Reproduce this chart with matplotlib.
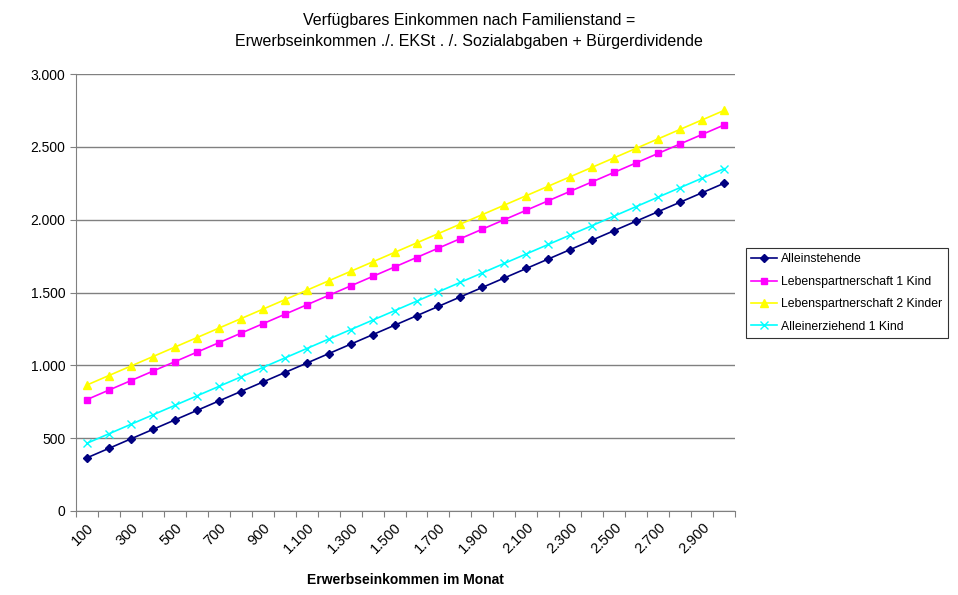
import numpy as np
import matplotlib.pyplot as plt
from matplotlib.ticker import FuncFormatter

plt.rcParams['font.family'] = ['Liberation Sans', 'DejaVu Sans']

# Erwerbseinkommen im Monat (Kategorien)
einkommen = [100, 200, 300, 400, 500, 600, 700, 800, 900, 1000,
             1100, 1200, 1300, 1400, 1500, 1600, 1700, 1800, 1900, 2000,
             2100, 2200, 2300, 2400, 2500, 2600, 2700, 2800, 2900, 3000]

alleinstehende = [365, 430, 495, 560, 625, 690, 755, 820, 885, 950,
                  1015, 1080, 1145, 1210, 1275, 1340, 1405, 1470, 1535, 1600,
                  1665, 1730, 1795, 1860, 1925, 1990, 2055, 2120, 2185, 2250]
lp_1_kind = [765, 830, 895, 960, 1025, 1090, 1155, 1220, 1285, 1350,
             1415, 1480, 1545, 1610, 1675, 1740, 1805, 1870, 1935, 2000,
             2065, 2130, 2195, 2260, 2325, 2390, 2455, 2520, 2585, 2650]
lp_2_kinder = [865, 930, 995, 1060, 1125, 1190, 1255, 1320, 1385, 1450,
               1515, 1580, 1645, 1710, 1775, 1840, 1905, 1970, 2035, 2100,
               2165, 2230, 2295, 2360, 2425, 2490, 2555, 2620, 2685, 2750]
alleinerz_1_kind = [465, 530, 595, 660, 725, 790, 855, 920, 985, 1050,
                    1115, 1180, 1245, 1310, 1375, 1440, 1505, 1570, 1635, 1700,
                    1765, 1830, 1895, 1960, 2025, 2090, 2155, 2220, 2285, 2350]

def tausender(v, pos):
    return '{:,.0f}'.format(v).replace(',', '.')

fig = plt.figure(figsize=(9.58, 5.95), dpi=100)
ax = fig.add_axes([0.0793, 0.1412, 0.688, 0.7344])

x = np.arange(1, len(einkommen) + 1)
ax.plot(x, alleinstehende, color='#000080', marker='D', markersize=4.5, lw=1.2, label='Alleinstehende')
ax.plot(x, lp_1_kind, color='#FF00FF', marker='s', markersize=5, lw=1.2, label='Lebenspartnerschaft 1 Kind')
ax.plot(x, lp_2_kinder, color='#FFFF00', marker='^', markersize=5.5, lw=1.2, label='Lebenspartnerschaft 2 Kinder')
ax.plot(x, alleinerz_1_kind, color='#00FFFF', marker='x', markersize=5.5, mew=1, lw=1.2, label='Alleinerziehend 1 Kind')

ax.set_xlim(0.5, len(einkommen) + 0.5)
ax.set_ylim(0, 3000)
ax.set_yticks(np.arange(0, 3001, 500))
ax.yaxis.set_major_formatter(FuncFormatter(tausender))
ax.grid(axis='y', color='#808080', lw=1)
ax.set_axisbelow(True)

# Teilstriche an Kategoriegrenzen, Beschriftung jede zweite Kategorie
ax.set_xticks(np.arange(0.5, len(einkommen) + 1, 1))
ax.set_xticklabels([])
ax.set_xticks(x[::2], minor=True)
ax.set_xticklabels([tausender(v, None) for v in einkommen[::2]], minor=True,
                   rotation=45, ha='right', rotation_mode='anchor', fontsize=10.5)
ax.tick_params(axis='x', which='minor', length=0, pad=7)
ax.tick_params(axis='x', which='major', length=4, color='#808080')
ax.tick_params(axis='y', length=4, color='#808080', labelsize=10)

for s in ['top', 'right']:
    ax.spines[s].set_visible(False)
for s in ['left', 'bottom']:
    ax.spines[s].set_color('#808080')

ax.set_xlabel('Erwerbseinkommen im Monat', fontweight='bold', fontsize=10, labelpad=12)
fig.suptitle('Verfügbares Einkommen nach Familienstand =\nErwerbseinkommen ./. EKSt . /. Sozialabgaben + Bürgerdividende',
             x=0.49, y=0.978, fontsize=11.5, linespacing=1.5)

leg = fig.legend(loc='upper left', bbox_to_anchor=(0.7787, 0.5832), borderaxespad=0,
                 fontsize=8.8, frameon=True, fancybox=False, edgecolor='black',
                 handlelength=2.1, borderpad=0.45, labelspacing=0.85, handletextpad=0.35)
leg.get_frame().set_linewidth(0.8)

fig.savefig('out.png', dpi=100)
